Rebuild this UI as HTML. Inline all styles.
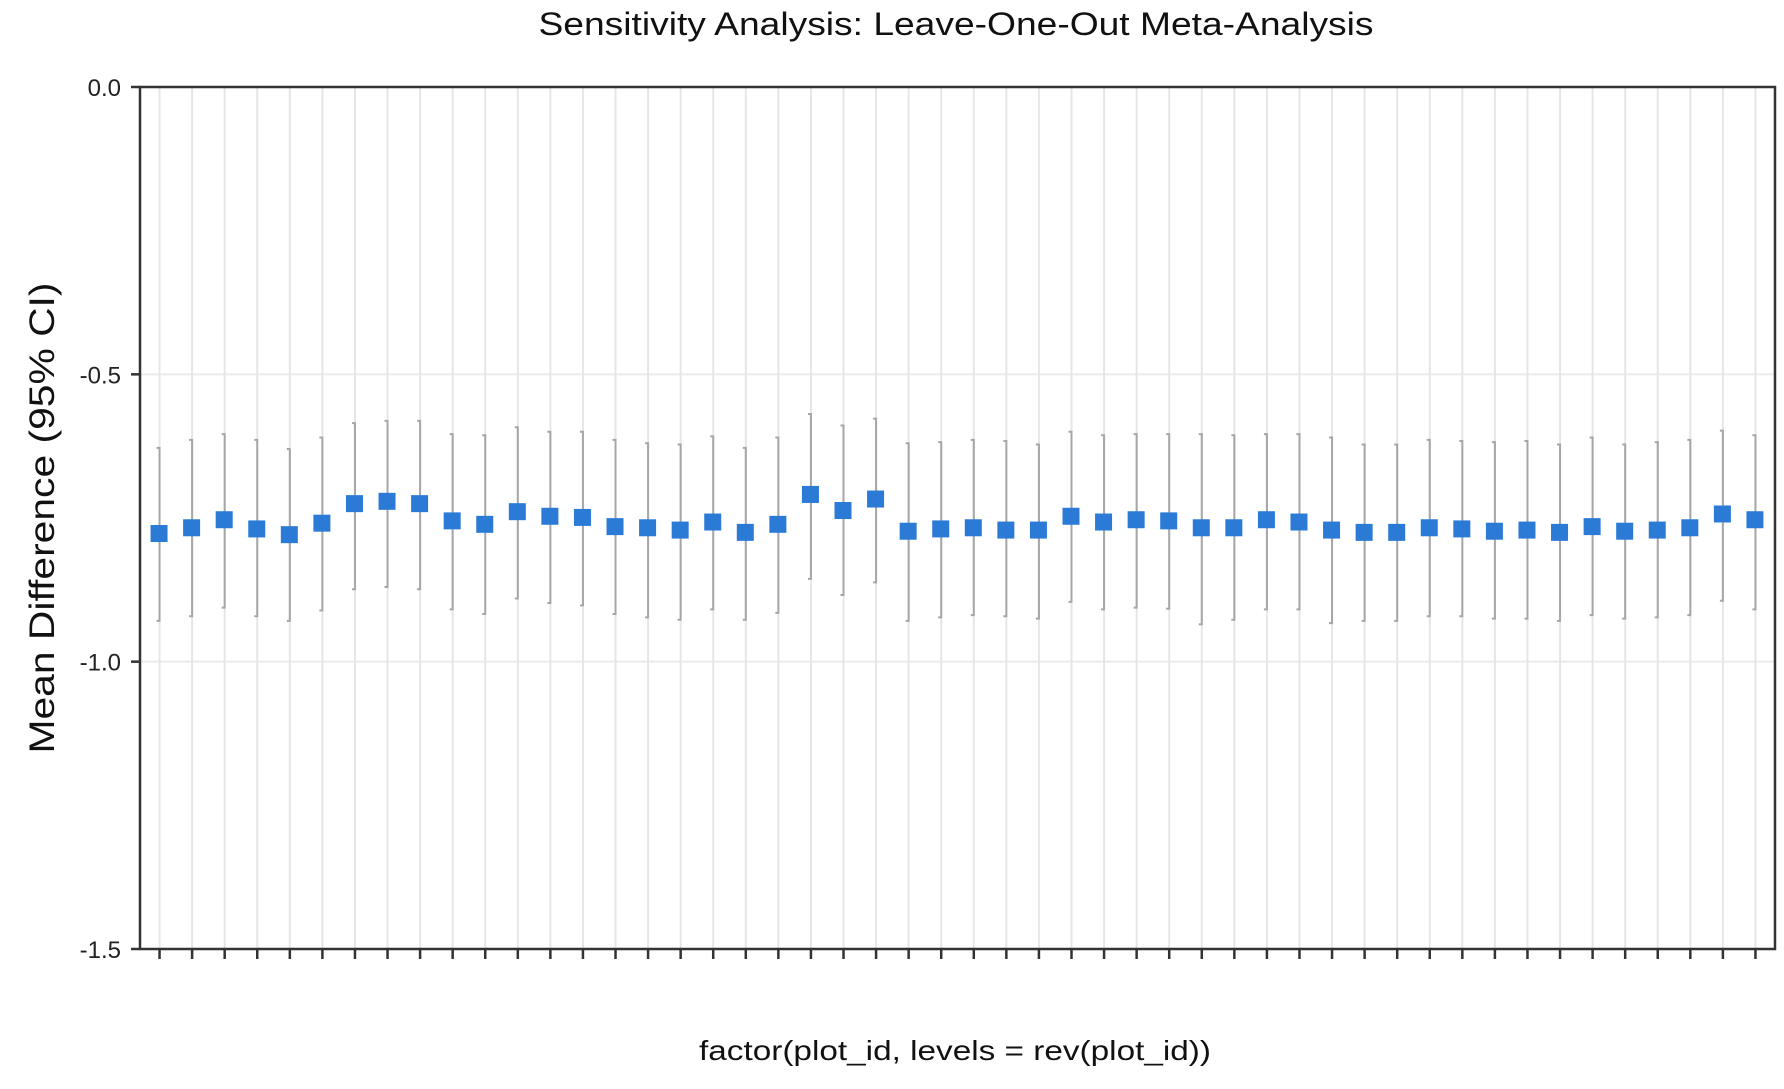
<!DOCTYPE html>
<html><head><meta charset="utf-8"><style>
html,body{margin:0;padding:0;background:#fff;}
svg{display:block;font-family:"Liberation Sans",Arial,sans-serif;}
</style></head><body>
<svg id="chart" width="1784" height="1089" viewBox="0 0 1784 1089" xmlns="http://www.w3.org/2000/svg">
<rect width="1784" height="1089" fill="#fff"/>
<text x="956" y="35" font-size="32" text-anchor="middle" textLength="835" lengthAdjust="spacingAndGlyphs" fill="#111">Sensitivity Analysis: Leave-One-Out Meta-Analysis</text>
<text transform="translate(54,518) rotate(-90)" font-size="35" text-anchor="middle" textLength="471" lengthAdjust="spacingAndGlyphs" fill="#111">Mean Difference (95% CI)</text>
<text x="955" y="1060" font-size="28" text-anchor="middle" textLength="512" lengthAdjust="spacingAndGlyphs" fill="#111">factor(plot_id, levels = rev(plot_id))</text>
<g id="grid"></g><g id="bars"></g><g id="points"></g><g id="axes"></g>
</svg>
<script>
const means = [-0.777,-0.767,-0.753,-0.769,-0.779,-0.759,-0.725,-0.721,-0.725,-0.755,-0.761,-0.739,-0.747,-0.749,-0.765,-0.767,-0.771,-0.757,-0.775,-0.761,-0.709,-0.737,-0.717,-0.773,-0.769,-0.767,-0.771,-0.771,-0.747,-0.757,-0.753,-0.755,-0.767,-0.767,-0.753,-0.757,-0.771,-0.775,-0.775,-0.767,-0.769,-0.773,-0.771,-0.775,-0.765,-0.773,-0.771,-0.767,-0.743,-0.753];
const upper = [-0.628,-0.614,-0.604,-0.614,-0.630,-0.610,-0.585,-0.581,-0.581,-0.604,-0.606,-0.592,-0.600,-0.600,-0.614,-0.620,-0.622,-0.608,-0.628,-0.610,-0.569,-0.589,-0.577,-0.620,-0.618,-0.614,-0.616,-0.622,-0.600,-0.606,-0.604,-0.604,-0.604,-0.606,-0.604,-0.604,-0.610,-0.622,-0.622,-0.614,-0.616,-0.618,-0.616,-0.622,-0.610,-0.622,-0.618,-0.614,-0.598,-0.606];
const lower = [-0.929,-0.921,-0.906,-0.921,-0.929,-0.911,-0.874,-0.870,-0.874,-0.909,-0.917,-0.890,-0.898,-0.902,-0.917,-0.923,-0.927,-0.909,-0.927,-0.915,-0.856,-0.884,-0.862,-0.929,-0.923,-0.919,-0.921,-0.925,-0.896,-0.909,-0.906,-0.908,-0.935,-0.927,-0.909,-0.909,-0.933,-0.929,-0.929,-0.921,-0.921,-0.925,-0.925,-0.929,-0.919,-0.925,-0.923,-0.919,-0.894,-0.909];
const yTicks = [0.0,-0.5,-1.0,-1.5];
const yTickLabels = ["0.0","-0.5","-1.0","-1.5"];

const NS="http://www.w3.org/2000/svg";
const L=140,R=1775,T=87,B=949;
const n=means.length;
const step=(R-L)/(n-1+1.2);
function xScale(i){return L+(0.6+i)*step;}
function yScale(v){return T+(0-v)/1.5*(B-T);}
function mk(tag,attrs,parent){const e=document.createElementNS(NS,tag);for(const k in attrs)e.setAttribute(k,attrs[k]);parent.appendChild(e);return e;}
const grid=document.getElementById('grid'),bars=document.getElementById('bars'),pts=document.getElementById('points'),axes=document.getElementById('axes');

yTicks.forEach((v,k)=>{
  const y=yScale(v);
  const g=mk('line',{x1:L,x2:R,y1:y,y2:y,stroke:'#ebebeb','stroke-width':2},grid);
  
  
  const t=mk('line',{x1:L-9,x2:L,y1:y,y2:y,stroke:'#333','stroke-width':2.5},axes);
  
  
  const lb=mk('text',{x:L-19,y:y+9,'font-size':24,'text-anchor':'end',fill:'#222'},axes);
  lb.textContent=yTickLabels[k];
  
  
});
for(let i=0;i<n;i++){
  const x=xScale(i);
  const g=mk('line',{x1:x,x2:x,y1:T,y2:B,stroke:'#e6e6e6','stroke-width':2},grid);
  
  
  const t=mk('line',{x1:x,x2:x,y1:B,y2:B+10,stroke:'#333','stroke-width':2.5},axes);
  
  
  const yu=yScale(upper[i]),yl=yScale(lower[i]);
  const eb=mk('path',{d:`M${x-3},${yu}H${x}V${yl}H${x-3}`,stroke:'#a6a6a6','stroke-width':2,fill:'none'},bars);
  
  
  const ym=yScale(means[i]);
  const p=mk('rect',{x:x-9,y:ym-8.5,width:17,height:17,fill:'#2b7bd6'},pts);
  
  
}
const frame=mk('rect',{x:L,y:T,width:R-L,height:B-T,fill:'none',stroke:'#333','stroke-width':2.5},axes);


</script>
</body></html>
